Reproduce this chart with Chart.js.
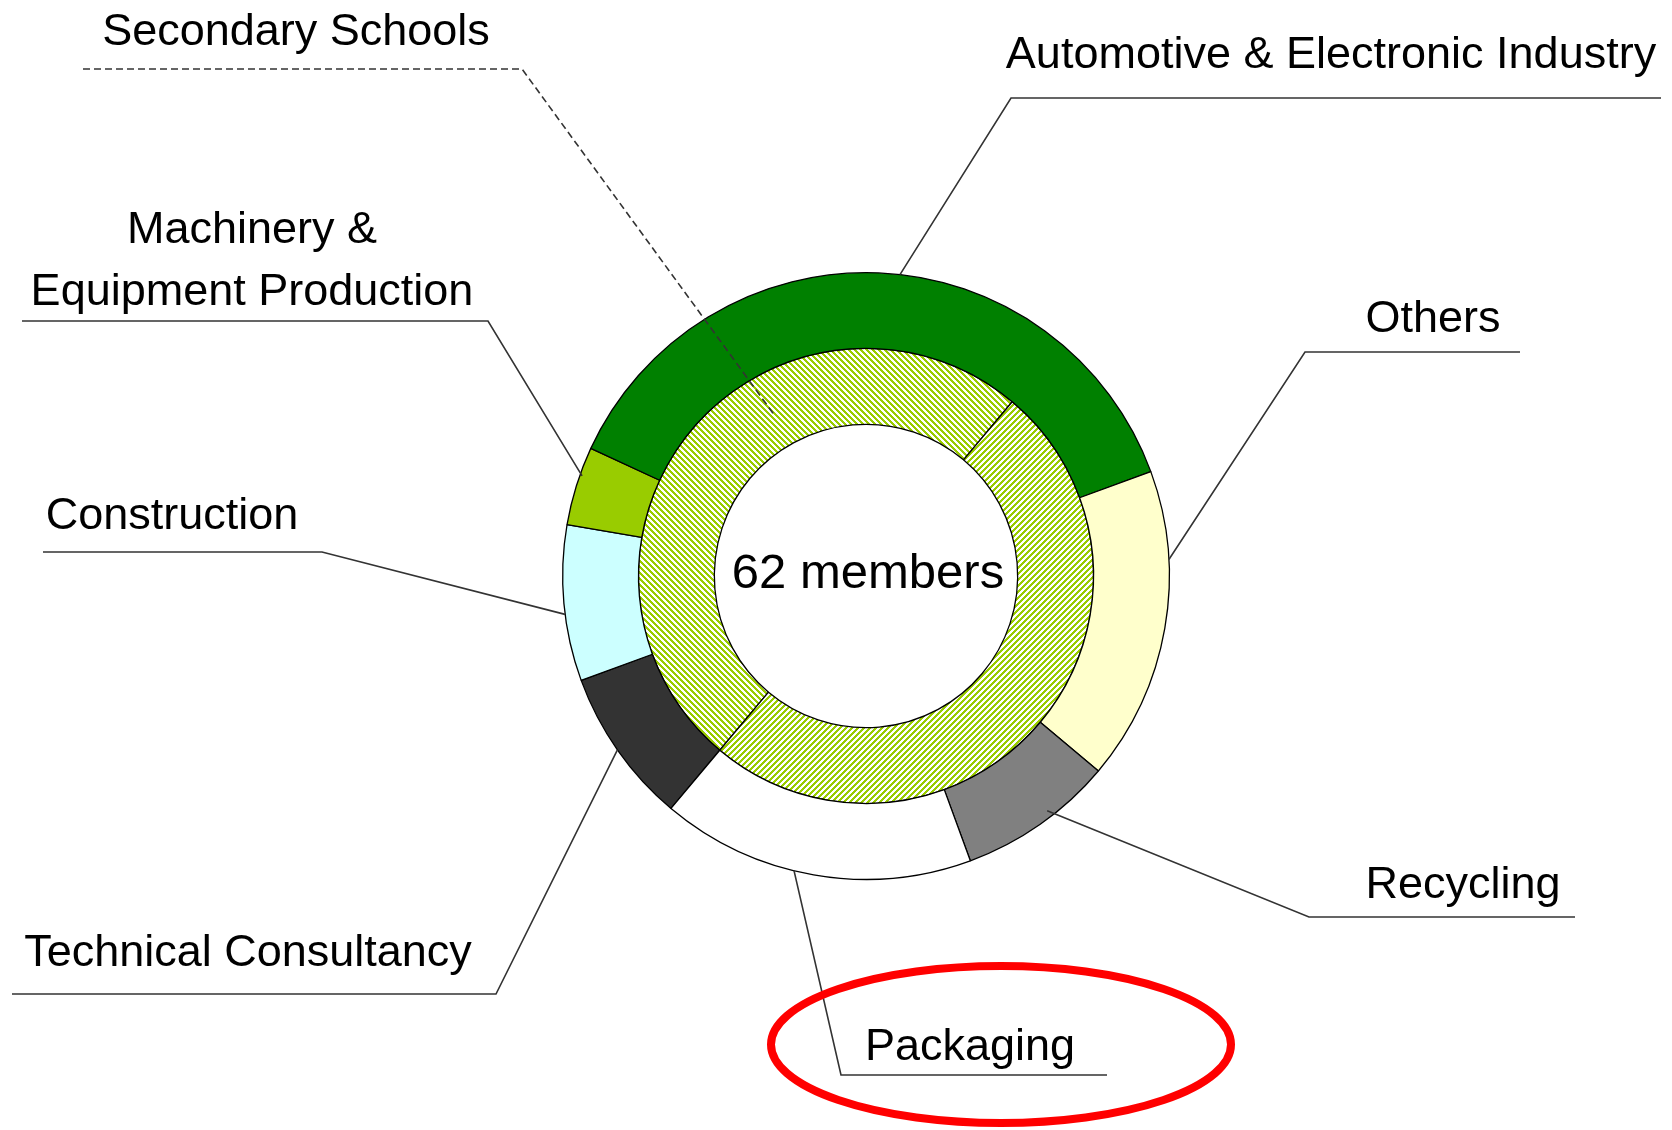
<!DOCTYPE html>
<html>
<head>
<meta charset="utf-8">
<script src="https://cdn.jsdelivr.net/npm/chart.js@4.4.1/dist/chart.umd.min.js"></script>
<style>
  html, body { margin: 0; padding: 0; background: #fff; }
  #wrap { width: 1672px; height: 1130px; }
</style>
</head>
<body>
<div id="wrap"><canvas id="members" width="1672" height="1130"></canvas></div>
<script>
// outer ring, clockwise from the first slice
const sectors = ['Technical Consultancy', 'Construction', 'Machinery & Equipment Production',
  'Automotive & Electronic Industry', 'Others', 'Recycling', 'Packaging'];
const sectorShare = [8.3, 8.3, 4.2, 37.5, 16.7, 8.3, 16.7];
// inner ring
const schoolShare = [50, 50];
const totalLabel = '62 members';

const sectorColors = ['#333333', '#CCFFFF', '#99CC00', '#008000', '#FFFFCC', '#808080', '#FFFFFF'];
const FONT = '"Liberation Sans", Arial, sans-serif';

// label boxes: text centre, baselines, underline [far end, near end, y], where the leader meets the ring
const callouts = [
  { ds: 1, i: 0, t: 0.613, r: 0.44, lines: ['Secondary Schools'], tx: 296, ty: [45], ul: [83, 522, 69], dashed: true },
  { ds: 0, i: 2, t: 0.64, r: 0.97, lines: ['Machinery &', 'Equipment Production'], tx: 252, ty: [243, 305], ul: [22, 488, 321] },
  { ds: 0, i: 3, t: 0.53, r: 1, lines: ['Automotive & Electronic Industry'], tx: 1331, ty: [68], ul: [1661, 1011, 98] },
  { ds: 0, i: 4, t: 0.283, r: 1, lines: ['Others'], tx: 1433, ty: [332], ul: [1520, 1305, 352] },
  { ds: 0, i: 1, t: 0.43, r: 1, lines: ['Construction'], tx: 172, ty: [529], ul: [43, 322, 552] },
  { ds: 0, i: 0, t: 0.503, r: 1, lines: ['Technical Consultancy'], tx: 248, ty: [966], ul: [12, 496, 994] },
  { ds: 0, i: 5, t: 0.413, r: 0.91, lines: ['Recycling'], tx: 1463, ty: [898], ul: [1575, 1309, 917] },
  { ds: 0, i: 6, t: 0.563, r: 1, lines: ['Packaging'], tx: 970, ty: [1060], ul: [1107, 841, 1075] },
];

const ctx = document.getElementById('members').getContext('2d');

// Excel-like diagonal hatch, green on white
function hatch(dir) {
  const n = 6;
  const tile = document.createElement('canvas');
  tile.width = tile.height = n;
  const g = tile.getContext('2d');
  g.fillStyle = '#fff';
  g.fillRect(0, 0, n, n);
  g.fillStyle = '#99CC00';
  for (let y = 0; y < n; y++) {
    for (let x = 0; x < n; x++) {
      const k = dir > 0 ? (x + y) % n : ((x - y) % n + n) % n;
      if (k < 3) g.fillRect(x, y, 1, 1);
    }
  }
  return ctx.createPattern(tile, 'repeat');
}

const calloutPlugin = {
  id: 'callouts',
  afterDraw(chart) {
    const c = chart.ctx;
    const hub = chart.getDatasetMeta(0).data[0];
    c.save();
    c.fillStyle = '#000';
    c.textAlign = 'center';
    c.font = '49px ' + FONT;
    c.fillText(totalLabel, hub.x + 2, hub.y + 12);

    c.font = '45px ' + FONT;
    callouts.forEach(o => {
      const arc = chart.getDatasetMeta(o.ds).data[o.i];
      const a = arc.startAngle + o.t * (arc.endAngle - arc.startAngle);
      const r = arc.innerRadius + o.r * (arc.outerRadius - arc.innerRadius);
      const [farX, nearX, y] = o.ul;
      c.strokeStyle = '#333';
      c.lineWidth = 1.6;
      c.setLineDash(o.dashed ? [7, 4] : []);
      c.beginPath();
      c.moveTo(farX, y);
      c.lineTo(nearX, y);
      c.lineTo(arc.x + r * Math.cos(a), arc.y + r * Math.sin(a));
      c.stroke();
      o.lines.forEach((s, k) => c.fillText(s, o.tx, o.ty[k]));
    });

    // red highlight round Packaging
    c.setLineDash([]);
    c.strokeStyle = '#ff0000';
    c.lineWidth = 8;
    c.beginPath();
    c.ellipse(1001, 1044.5, 230, 78.5, 0, 0, Math.PI * 2);
    c.stroke();
    c.restore();
  }
};

new Chart(ctx, {
  type: 'doughnut',
  data: {
    labels: sectors,
    datasets: [
      {
        label: 'Members by sector',
        data: sectorShare,
        backgroundColor: sectorColors,
        borderColor: '#000',
        borderWidth: 1.3,
      },
      {
        label: 'Secondary Schools',
        data: schoolShare,
        backgroundColor: [hatch(-1), hatch(1)],
        borderColor: '#000',
        borderWidth: 1.3,
      },
    ],
  },
  options: {
    responsive: false,
    animation: false,
    events: [],
    rotation: 220,
    cutout: '50%',
    layout: { padding: { left: 562, right: 502, top: 272, bottom: 250 } },
    plugins: { legend: { display: false }, tooltip: { enabled: false } },
  },
  plugins: [calloutPlugin],
});
</script>
</body>
</html>
